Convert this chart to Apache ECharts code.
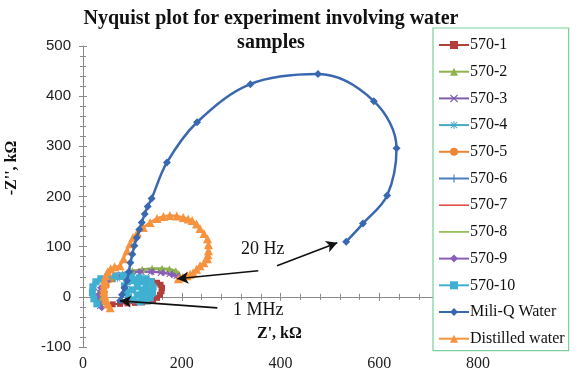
<!DOCTYPE html>
<html><head><meta charset="utf-8">
<script src="https://cdn.jsdelivr.net/npm/echarts@6/dist/echarts.min.js"></script>
<style>html,body{margin:0;padding:0;background:#fff}#c{width:577px;height:372px}</style>
</head><body><div id="c"></div>
<script>
// ---- data (Z' kΩ, -Z'' kΩ) ----
const xTicks = [0, 200, 400, 600, 800];
const yTicks = [-100, 0, 100, 200, 300, 400, 500];
const names = ['570-1','570-2','570-3','570-4','570-5','570-6','570-7','570-8','570-9','570-10','Mili-Q Water','Distilled water'];
const s570_1 = [[60,-15],[75,-14],[90,-13],[105,-12],[120,-11],[132,-9],[142,-6],[150,-2],[156,4],[159,11],[160,18],[157,24],[150,28],[140,31],[128,34]];
const s570_2 = [[40,-10],[35,0],[36,12],[45,25],[60,36],[80,46],[100,52],[120,55],[140,57],[160,57],[175,56],[188,52],[194,46]];
const s570_3 = [[35,-18],[30,-5],[32,10],[42,24],[58,36],[78,44],[98,48],[118,50],[138,50],[158,48],[176,46],[190,42]];
const s570_4 = [[30,-12],[22,0],[20,12],[24,24],[34,32],[50,36],[70,36],[90,35],[110,33],[128,30],[138,22],[140,10],[136,-2]];
const s570_5 = [[50,-18],[45,-6],[44,8],[48,22],[56,34],[68,42]];
const s570_6 = [[78,-6],[82,6],[88,20],[94,34],[100,46]];
const s570_7 = [[80,-10],[95,-10],[110,-8],[120,-2],[125,6]];
const s570_8 = [[45,-12],[40,0],[42,14],[52,28],[70,40],[92,48],[115,53],[140,55],[165,55],[185,50]];
const s570_9 = [[38,-22],[32,-12],[30,2],[36,18],[50,32],[70,42],[92,48],[115,50],[140,50],[162,48],[180,44],[192,40]];
const s570_10 = [[28,-14],[22,-4],[19,8],[20,20],[26,30],[36,36],[50,40],[66,42],[82,42],[98,40],[114,38],[128,36],[138,30],[142,20],[141,8],[136,-2],[128,-8],[116,-10],[102,-6],[92,0],[86,10],[84,22],[90,30],[104,32],[118,30],[128,22],[130,10],[122,2],[110,4],[100,14],[110,20],[120,14]];
const miliQ = [[75,-8],[79,4],[84,18],[89,32],[93,50],[96,68],[100,85],[104,102],[109,118],[114,134],[119,148],[125,165],[131,180],[139,196],[170,268],[231,348],[339,424],[476,444],[589,390],[635,296],[616,202],[567,146],[533,110]];
const distilled = [[55,-22],[50,-14],[46,-6],[44,2],[42,10],[42,18],[43,26],[44,34],[46,42],[50,50],[56,56],[64,60],[75,62],[82,76],[89,92],[95,106],[101,118],[110,128],[122,138],[136,148],[150,156],[163,160],[176,162],[190,161],[203,158],[213,155],[221,152],[230,145],[237,136],[245,126],[252,116],[254,104],[254,92],[253,84],[252,76],[245,68],[237,62],[230,55],[223,48],[217,45],[211,42],[202,39],[193,36]];
const arrows = [ [[393,62],[515,108]], [[355,52],[191,36]], [[272,-22],[75,-8]] ];

const XSYM = 'path://M1,0 L5,4 L9,0 L10,1 L6,5 L10,9 L9,10 L5,6 L1,10 L0,9 L4,5 L0,1 Z';
const PLUS = 'path://M4.3,0 H5.7 V4.3 H10 V5.7 H5.7 V10 H4.3 V5.7 H0 V4.3 H4.3 Z';
const STAR = 'path://M4.4,0 H5.6 V3.6 L8.6,0.8 L9.4,1.6 L6.4,4.4 H10 V5.6 H6.4 L9.4,8.4 L8.6,9.2 L5.6,6.4 V10 H4.4 V6.4 L1.4,9.2 L0.6,8.4 L3.6,5.6 H0 V4.4 H3.6 L0.6,1.6 L1.4,0.8 L4.4,3.6 Z';
const LINEICON = 'path://M0,0 M0,4.2 L30,4.2 L30,5.8 L0,5.8 Z M30,10';

const specs = [
  {d:s570_1, c:'#B23F3C', sym:'rect', ss:6},
  {d:s570_2, c:'#8FB24E', sym:'triangle', ss:7},
  {d:s570_3, c:'#7E5FA6', sym:XSYM, ss:7},
  {d:s570_4, c:'#46A8C4', sym:STAR, ss:7},
  {d:s570_5, c:'#EE8534', sym:'circle', ss:6},
  {d:s570_6, c:'#4A7DC0', sym:PLUS, ss:7},
  {d:s570_7, c:'#E2504C', sym:'none', ss:0},
  {d:s570_8, c:'#8DB84A', sym:'none', ss:0},
  {d:s570_9, c:'#8A5EB8', sym:'diamond', ss:7},
  {d:s570_10, c:'#3FB0D2', sym:'rect', ss:7},
  {d:miliQ, c:'#3A68B0', sym:'diamond', ss:8},
  {d:distilled, c:'#F7923E', sym:'triangle', ss:9}
];

const series = specs.map((s, i) => ({
  name: names[i], type: 'line', xAxisIndex: 0, yAxisIndex: 0,
  data: s.d, smooth: 0.35, symbol: s.sym, symbolSize: s.ss, showSymbol: s.sym !== 'none',
  lineStyle: {color: s.c, width: i >= 10 ? 2.5 : 2}, itemStyle: {color: s.c},
  z: i >= 10 ? 3 : 2, clip: false
}));
series[10].z = 4;
series.push({
  type: 'line', xAxisIndex: 0, yAxisIndex: 0, data: [], silent: true, z: 6,
  markLine: {
    silent: true, symbol: ['none', 'arrow'], symbolSize: [9, 11], animation: false,
    label: {show: false},
    lineStyle: {color: '#111', width: 1.6, type: 'solid'},
    data: arrows.map(a => [{coord: a[0]}, {coord: a[1]}])
  }
});

const legendData = names.map((n, i) => specs[i].sym === 'none' ? {name: n, icon: LINEICON} : {name: n});

const axisGray = '#8a8a8a';
const titleFont = {fontFamily: 'Liberation Serif', fontWeight: 'bold', fontSize: 20, color: '#111'};
const option = {
  animation: false,
  backgroundColor: '#fff',
  title: [
    {text: 'Nyquist plot for experiment involving water', left: 266, top: 4, textAlign: 'center', textStyle: titleFont},
    {text: 'samples', left: 266, top: 28, textAlign: 'center', textStyle: titleFont}
  ],
  grid: {left: 83, right: 99, top: 46, bottom: 25, containLabel: false},
  xAxis: [
    {type: 'value', min: 0, max: 800, interval: 200, position: 'bottom',
     axisLine: {show: true, onZero: true, lineStyle: {color: axisGray}},
     axisTick: {show: true, inside: false, length: 4, lineStyle: {color: axisGray}},
     minorTick: {show: true, splitNumber: 5, length: 3, lineStyle: {color: axisGray}},
     axisLabel: {show: false}, splitLine: {show: false}},
    {type: 'value', min: 0, max: 800, interval: 200, position: 'bottom',
     axisLine: {show: false, onZero: false}, axisTick: {show: false},
     axisLabel: {show: true, margin: 9, fontFamily: 'Liberation Serif', fontSize: 16, color: '#222',
       formatter: v => xTicks.includes(v) ? String(v) : ''},
     splitLine: {show: false}},
    {type: 'value', min: 0, max: 800, interval: 200, position: 'bottom',
     axisLine: {show: false, onZero: true},
     axisTick: {show: true, inside: true, length: 4, lineStyle: {color: axisGray}},
     minorTick: {show: true, splitNumber: 5, length: 3, lineStyle: {color: axisGray}},
     axisLabel: {show: false}, splitLine: {show: false}}
  ],
  yAxis: [
    {type: 'value', min: -100, max: 500, interval: 100, position: 'left',
     axisLine: {show: true, onZero: false, lineStyle: {color: axisGray}},
     axisTick: {show: true, inside: false, length: 4, lineStyle: {color: axisGray}},
     minorTick: {show: true, splitNumber: 5, length: 3, lineStyle: {color: axisGray}},
     axisLabel: {show: true, margin: 12, fontFamily: 'Liberation Sans', fontSize: 15, color: '#222',
       formatter: v => yTicks.includes(v) ? String(v) : ''},
     splitLine: {show: false}},
    {type: 'value', min: -100, max: 500, interval: 100, position: 'left',
     axisLine: {show: false, onZero: false},
     axisTick: {show: true, inside: true, length: 4, lineStyle: {color: axisGray}},
     minorTick: {show: true, splitNumber: 5, length: 3, lineStyle: {color: axisGray}},
     axisLabel: {show: false}, splitLine: {show: false}}
  ],
  legend: {
    data: legendData, orient: 'vertical', left: 433, top: 28, width: 139, height: 327,
    backgroundColor: '#fff', borderColor: '#79d09a', borderWidth: 1.2,
    padding: [9, 4, 4, 5], itemGap: 10.7, itemWidth: 30, itemHeight: 10,
    selectedMode: false, z: 10,
    textStyle: {fontFamily: 'Liberation Serif', fontSize: 16, color: '#111', padding: [0, 0, 0, -4]}
  },
  graphic: [
    {type: 'text', left: 241, top: 240, z: 20, style: {text: '20 Hz', font: '18px "Liberation Serif"', fill: '#111'}},
    {type: 'text', left: 233, top: 301, z: 20, style: {text: '1 MHz', font: '18px "Liberation Serif"', fill: '#111'}},
    {type: 'text', left: 257, top: 326, z: 20, style: {text: "Z', kΩ", font: 'bold 16px "Liberation Serif"', fill: '#111'}},
    {type: 'text', x: 12, y: 168, rotation: Math.PI / 2, z: 20,
     style: {text: "-Z'', kΩ", font: 'bold 16px "Liberation Serif"', fill: '#111', align: 'center', verticalAlign: 'middle'}}
  ],
  series: series
};
const chart = echarts.init(document.getElementById('c'), null, {renderer: 'canvas'});
chart.setOption(option);
</script>
</body></html>
